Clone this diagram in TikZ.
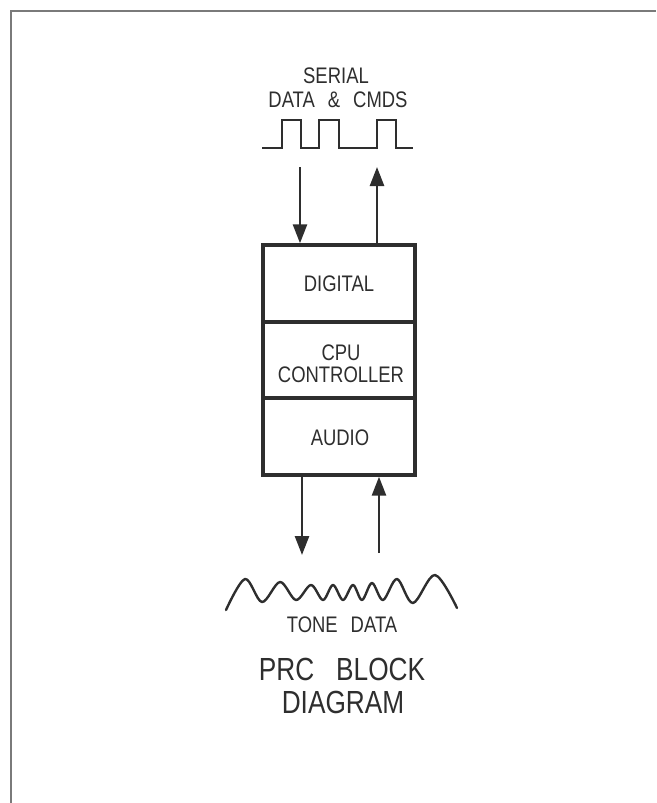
\documentclass[tikz,border=0pt]{standalone}
\usepackage{fontspec}
\setmainfont[FakeStretch=0.82]{Liberation Sans}
\usetikzlibrary{arrows.meta}
\definecolor{ink}{HTML}{2E2E2E}
\definecolor{framegray}{HTML}{7A7A7A}
\tikzset{
  lbl/.style={anchor=base, inner sep=0pt, text=ink, font=\fontsize{22.5}{23}\selectfont},
  bigl/.style={anchor=base, inner sep=0pt, text=ink, font=\fontsize{32}{33}\selectfont},
  section/.style={draw=ink, line width=3.4pt, minimum width=152pt, inner sep=0pt},
  sig/.style={draw=ink, line width=2.4pt},
  conn/.style={draw=ink, line width=2.6pt, -{Triangle[length=19pt, width=14pt]}},
}
\begin{document}
\begin{tikzpicture}[x=1pt, y=-1pt]
\useasboundingbox (0,0) rectangle (656,803);
% frame
\draw[framegray, line width=2.2pt] (11,803) -- (11,11) -- (656,11);

% top label
\node[lbl] (serial) at (336,83) {SERIAL};
\node[lbl] (datacmds) at (338,107) {DATA\hspace{13pt}\&\hspace{13pt}CMDS};

% square wave
\draw[sig, line join=miter] (262,148) -- (282,148) -- (282,120) -- (301,120) -- (301,148)
  -- (319,148) -- (319,120) -- (339,120) -- (339,148) -- (377,148) -- (377,120)
  -- (396,120) -- (396,148) -- (413,148);

% block
\node[section, minimum height=77pt] (dig) at (339,283.5) {};
\node[section, minimum height=76pt] (cpu) at (339,360) {};
\node[section, minimum height=77pt] (aud) at (339,436.5) {};
\node[lbl] (digt) at (339,291.5) {DIGITAL};
\node[lbl] (cput) at (341,360) {CPU};
\node[lbl] (ctrlt) at (341,382) {CONTROLLER};
\node[lbl] (audt) at (340,445) {AUDIO};

% connectors
\coordinate (tin) at (300,167);
\coordinate (tout) at (377,167);
\coordinate (bout) at (302,555);
\coordinate (bin) at (379,553);
\draw[conn] (tin) -- (tin |- dig.north);
\draw[conn] (tout |- dig.north) -- (tout);
\draw[conn] (bout |- aud.south) -- (bout);
\draw[conn] (bin) -- (bin |- aud.south);

% tone wave
\draw[sig, line join=round, line cap=round] plot[smooth, tension=0.55] coordinates {
  (226,610) (245,579) (262,602) (280,582) (296,600) (311,585) (323,600) (333,585)
  (343,600) (353,585) (362,600) (372,583) (383,600) (397,579) (413,603) (435,575) (457,608)};

\node[lbl] (tone) at (342,632) {TONE\hspace{13pt}DATA};
\node[bigl] (prc) at (342,680) {PRC\hspace{22pt}BLOCK};
\node[bigl] (diag) at (343,713) {DIAGRAM};
\end{tikzpicture}
\end{document}
